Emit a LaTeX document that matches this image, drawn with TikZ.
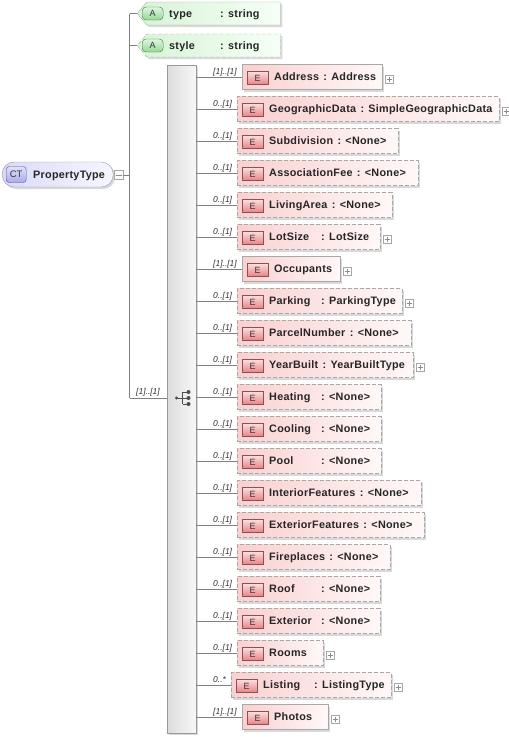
\documentclass[tikz,border=0pt]{standalone}
\usepackage{fontspec}
\setmainfont{Liberation Sans}
\newfontfamily\diafont[LetterSpace=2.5]{Liberation Sans}
\usetikzlibrary{shadows,shapes.symbols}

\definecolor{elemL}{RGB}{250,208,208}
\definecolor{elemR}{RGB}{255,248,248}
\definecolor{elemRim}{RGB}{168,168,168}
\definecolor{badgeE}{RGB}{232,130,130}
\definecolor{badgeEhi}{RGB}{252,222,222}
\definecolor{badgeErim}{RGB}{140,80,80}
\definecolor{attrL}{RGB}{214,244,214}
\definecolor{attrR}{RGB}{246,255,246}
\definecolor{badgeA}{RGB}{150,214,150}
\definecolor{badgeAhi}{RGB}{222,246,222}
\definecolor{badgeArim}{RGB}{70,120,70}
\definecolor{ctL}{RGB}{218,218,248}
\definecolor{ctR}{RGB}{246,246,255}
\definecolor{ctRim}{RGB}{150,150,185}
\definecolor{badgeCT}{RGB}{170,170,235}
\definecolor{badgeCThi}{RGB}{225,225,252}
\definecolor{badgeCTrim}{RGB}{80,80,150}
\definecolor{wireclr}{RGB}{128,128,128}

\tikzset{
  shade box/.style={drop shadow={shadow xshift=2pt,shadow yshift=-2pt,fill=black!15,opacity=1}},
  wire/.style={draw=wireclr,line width=0.8pt},
  txt/.style={inner sep=0pt,text=black!85,font=\diafont\fontsize{10.8}{12}\selectfont\bfseries},
  mult/.style={inner sep=0pt,text=black!80,font=\fontsize{8.5}{10}\selectfont\itshape},
  req/.style={},
  opt/.style={dash pattern=on 4pt off 2pt},
  elem/.style={draw=elemRim,left color=elemL,right color=elemR,minimum height=25pt,inner sep=0pt,shade box},
  ebadge/.style={draw=badgeErim,top color=badgeEhi,bottom color=badgeE,minimum width=21pt,minimum height=13pt,
    inner sep=0pt,text=black!80,font=\fontsize{9}{10}\selectfont},
  attr/.style={signal,signal to=west,signal from=nowhere,signal pointer angle=100,draw=elemRim,
    left color=attrL,right color=attrR,minimum height=23pt,inner sep=0pt,shade box},
  abadge/.style={draw=badgeArim,top color=badgeAhi,bottom color=badgeA,rounded corners=4pt,minimum width=21pt,
    minimum height=13pt,inner sep=0pt,text=black!80,font=\fontsize{9}{10}\selectfont},
  ctbox/.style={draw=ctRim,left color=ctL,right color=ctR,rounded corners=12pt,minimum height=25pt,inner sep=0pt,shade box},
  ctbadge/.style={draw=badgeCTrim,top color=badgeCThi,bottom color=badgeCT,rounded corners=3pt,minimum width=20pt,
    minimum height=16pt,inner sep=0pt,text=black!80,font=\fontsize{9.5}{10}\selectfont},
  seqbox/.style={draw=black!40,left color=black!14,right color=black!3,inner sep=0pt,shade box},
  plusbox/.style={draw=black!35,fill=white,minimum size=8pt,inner sep=0pt,
    path picture={\draw[black!45] ([xshift=1.5pt]path picture bounding box.west)--([xshift=-1.5pt]path picture bounding box.east)
      ([yshift=-1.5pt]path picture bounding box.north)--([yshift=1.5pt]path picture bounding box.south);}},
  minusbox/.style={draw=black!35,fill=white,minimum size=9pt,inner sep=0pt,
    path picture={\draw[black!45] ([xshift=1.5pt]path picture bounding box.west)--([xshift=-1.5pt]path picture bounding box.east);}}
}

\begin{document}
\begin{tikzpicture}[x=1pt,y=-1pt]
  \useasboundingbox (0,0) rectangle (509,737);

  % complex type
  \node[ctbox,minimum width=111pt,anchor=west] (pt) at (2,174.5) {};
  \node[ctbadge,anchor=west] (ptb) at (6,174.5) {CT};
  \node[txt,anchor=base west] (ptn) at (33,178.5) {PropertyType};
  \node[minusbox] (ptm) at (118.5,175) {};
  \coordinate (spinetop) at (129.5,13.5);
  \coordinate (spinebot) at (129.5,398);
  \draw[wire] (ptm.east) -- (ptm.east -| spinetop);
  \draw[wire] (spinetop) -- (spinebot);

  % attributes
  \foreach \a/\nm/\st in {1/type/req,2/style/opt}{
    \pgfmathsetmacro\cy{13.5+32*(\a-1)}
    \node[attr,\st,minimum width=143pt,anchor=west] (a\a) at (137,\cy) {};
    \node[abadge,anchor=west] (ab\a) at (142,\cy) {A};
    \node[txt,anchor=base west] (an\a) at (169,\cy+3.5) {\nm};
    \node[txt,anchor=base west] (at\a) at (220,\cy+3.5) {: string};
    \draw[wire] (a\a.west -| spinetop) -- (a\a.west);
  }

  % sequence compositor
  \node[seqbox,minimum width=29pt,minimum height=668pt,anchor=north west] (seq) at (167,65) {};
  \draw[wire] (spinebot) -- (spinebot -| seq.west);
  \node[mult,anchor=base west] (seqm) at (136,394.5) {[1]..[1]};
  \fill[black!70] (176.5,398) circle (1.7pt);
  \draw[black!70,line width=0.9pt] (176.5,398) -- (188.5,398) (182.5,392) -- (182.5,404)
    (182.5,392) -- (188.5,392) (182.5,404) -- (188.5,404);
  \foreach \dy in {392,398,404}
    \fill[black!70] (188.5,\dy) circle (2pt);

  % child elements: name/type/colon(0 none,1 follow,else x)/left/right/border/plus/occurs
  \foreach \i/\nm/\ty/\cx/\lx/\rx/\st/\pl/\mu in {
    1/Address/Address/1/242/382/req/1/{[1]..[1]},
    2/GeographicData/SimpleGeographicData/1/237/499/opt/1/{0..[1]},
    3/Subdivision/<None>/1/237/398/opt/0/{0..[1]},
    4/AssociationFee/<None>/1/237/418/opt/0/{0..[1]},
    5/LivingArea/<None>/1/237/392/opt/0/{0..[1]},
    6/LotSize/LotSize/321/237/380/opt/1/{0..[1]},
    7/Occupants//0/242/340/req/1/{[1]..[1]},
    8/Parking/ParkingType/321/237/402/opt/1/{0..[1]},
    9/ParcelNumber/<None>/1/237/411/opt/0/{0..[1]},
    10/YearBuilt/YearBuiltType/1/237/413/opt/1/{0..[1]},
    11/Heating/<None>/321/237/381/opt/0/{0..[1]},
    12/Cooling/<None>/321/237/381/opt/0/{0..[1]},
    13/Pool/<None>/321/237/381/opt/0/{0..[1]},
    14/InteriorFeatures/<None>/1/237/421/opt/0/{0..[1]},
    15/ExteriorFeatures/<None>/1/237/424/opt/0/{0..[1]},
    16/Fireplaces/<None>/1/237/390/opt/0/{0..[1]},
    17/Roof/<None>/321/237/380/opt/0/{0..[1]},
    18/Exterior/<None>/321/237/380/opt/0/{0..[1]},
    19/Rooms//0/237/323/opt/1/{0..[1]},
    20/Listing/ListingType/314/231/391/opt/1/{0..*},
    21/Photos//0/242/328/req/1/{[1]..[1]}}{
    \pgfmathsetmacro\cy{77+32*(\i-1)}
    \pgfmathsetmacro\bw{\rx-\lx}
    \node[elem,\st,minimum width=\bw pt,anchor=west] (e\i) at (\lx,\cy) {};
    \node[ebadge,anchor=west] (b\i) at ([xshift=5pt,yshift=-1pt]e\i.west) {E};
    \node[txt,anchor=base west] (n\i) at (\lx+32,\cy+3.5) {\nm};
    \ifnum\cx=1 \node[txt,anchor=base west] (t\i) at ([xshift=4pt]n\i.base east) {: \ty};\fi
    \ifnum\cx>1 \node[txt,anchor=base west] (t\i) at (\cx,\cy+3.5) {: \ty};\fi
    \ifnum\pl=1 \node[plusbox] (p\i) at (\rx+7,\cy+2) {};\fi
    \node[mult,anchor=base west] (m\i) at (213,\cy-3) {\mu};
    \draw[wire] (e\i.west -| seq.east) -- (e\i.west);
  }
\end{tikzpicture}
\end{document}
